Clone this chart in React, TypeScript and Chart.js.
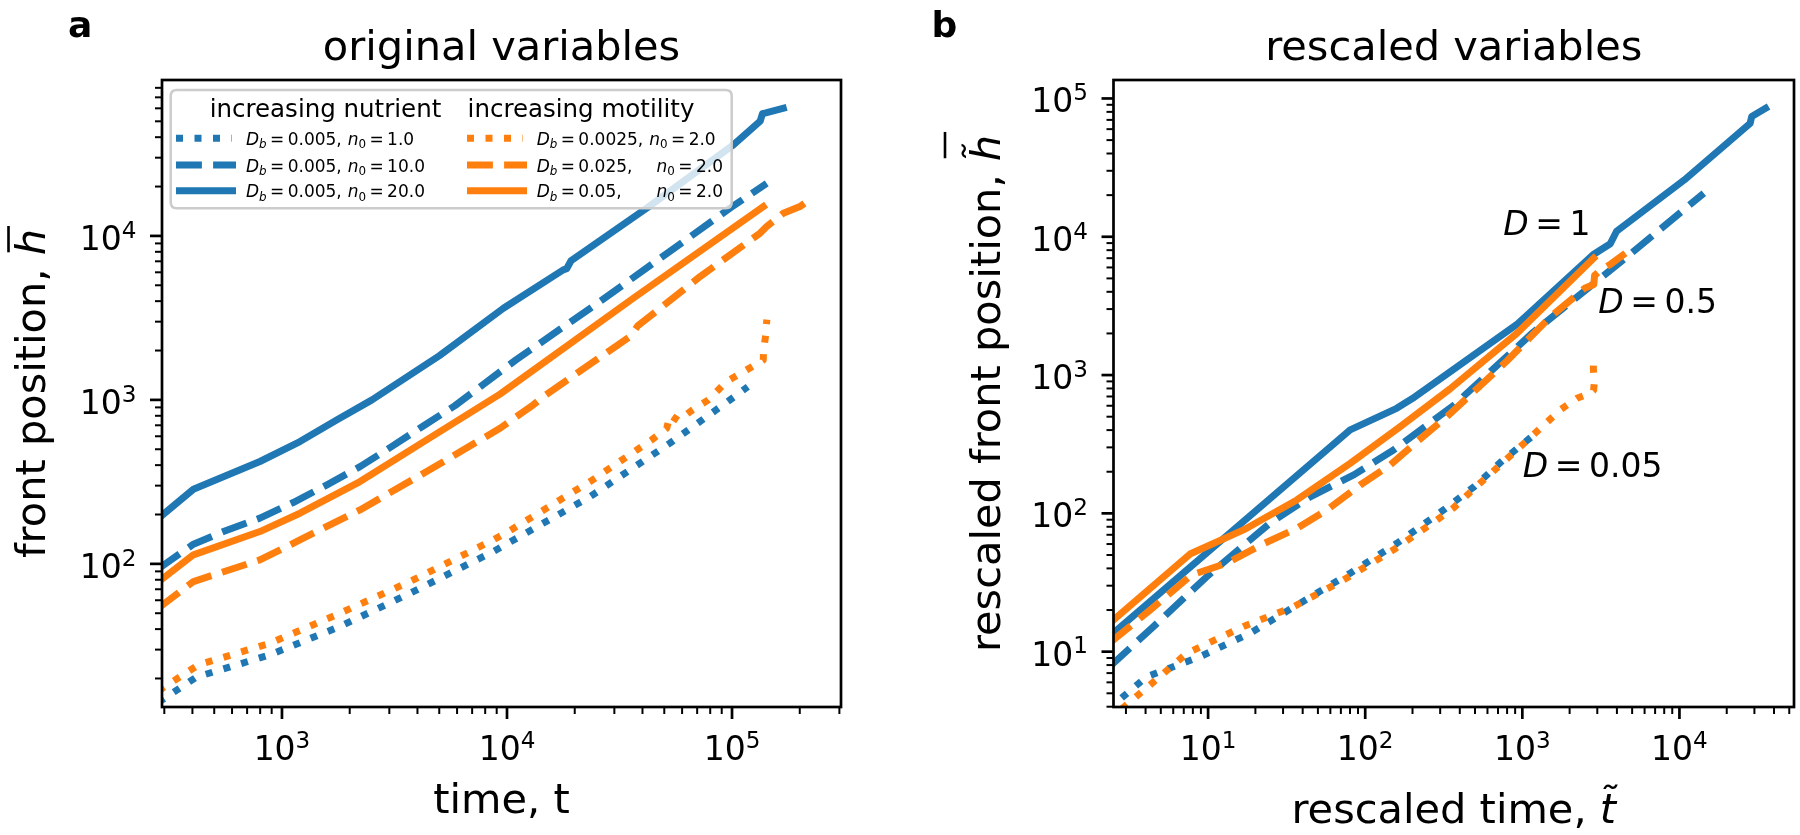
import React, { useEffect, useRef } from "react";
import { Chart, registerables } from "chart.js";

Chart.register(...registerables);

const BLUE = "#1f77b4";
const ORANGE = "#ff7f0e";
const FF = "'DejaVu Sans', 'Liberation Sans', sans-serif";
const LW = 7;
const DASHED = [25.9, 11.2];
const DOTTED = [7, 11.5];

// ---------------- panel a : original variables ----------------
const aXRange = [293, 305000];
const aYRange = [13.4, 89300];
const aXExp = [3, 4, 5];
const aYExp = [2, 3, 4];

// increasing nutrient (Db = 0.005)
const aNut1T = [282, 417, 885, 1811, 3707, 8690, 23390, 52970, 97950, 117500];
const aNut1H = [14.3, 20.4, 27.9, 41.5, 66.2, 118.9, 257, 544.5, 1000, 1202];
const aNut10T = [282, 404, 549.5, 798, 1122, 1585, 2223, 3069, 4246, 5875, 10960, 25880, 97950, 142600];
const aNut10H = [93.3, 131.8, 157.4, 190.1, 236.6, 303.4, 391.7, 518.8, 693.4, 922.6, 1754, 3981, 14760, 20940];
const aNut20T = [282, 404, 798, 1202, 1750, 2512, 5012, 9638, 17780, 18410, 19280, 41780, 101400, 133400, 136500, 141300, 169000];
const aNut20H = [189, 285, 421, 557, 755, 1000, 1862, 3622, 6209, 6310, 7079, 14760, 35890, 50120, 55590, 56230, 60120];

// increasing motility (n0 = 2.0)
const aMot0025T = [282, 425, 885, 1811, 3707, 8690, 10140, 23390, 43950, 51290, 52970, 57680, 66830, 78520, 94620, 116100, 137700, 138000, 141300, 141900, 142900];
const aMot0025H = [16.8, 24.2, 32.8, 50, 78, 140, 157.4, 317.7, 570.2, 671.4, 811, 748, 869, 1000, 1294, 1524, 1754, 1995, 2512, 2818, 3090];
const aMot025T = [282, 404, 798, 1202, 2223, 4395, 9311, 13090, 14490, 35480, 38020, 72110, 133000, 142600, 169000, 200400, 225400];
const aMot025H = [53.7, 78, 105.7, 140, 213.3, 365.6, 671.4, 933.3, 1047, 2455, 2818, 5649, 10370, 11400, 13740, 15100, 16980];
const aMot05T = [282, 404, 798, 1202, 2223, 4395, 9311, 36390, 137700];
const aMot05H = [77.6, 113.5, 157.4, 203.7, 317.7, 570.2, 1084, 4169, 15100];

// ---------------- panel b : rescaled variables ----------------
const bXRange = [2.5, 53600];
const bYRange = [3.98, 136000];
const bXExp = [1, 2, 3, 4];
const bYExp = [1, 2, 3, 4, 5];

const bNut20T = [2.4, 80.2, 158.5, 199.5, 363.1, 933.3, 2818, 3631, 3981, 10720, 28180, 28840, 35320];
const bNut20H = [13.1, 401, 575, 676, 1096, 2344, 7413, 8913, 10960, 25700, 66070, 74130, 84920];
const bMot05T = [2.4, 7.67, 16.8, 36.7, 80.2, 167.1, 346.7, 924.7, 2844];
const bMot05H = [16.3, 50.8, 75.9, 125, 230, 423.6, 794.3, 2004, 7000];
const bNut10T = [2.4, 4.47, 9.77, 24.8, 44.7, 85.1, 151.4, 364.8, 1175, 4645, 14290];
const bNut10H = [7.91, 15.1, 34.7, 85.1, 131.8, 190.5, 287.1, 602.6, 2042, 7178, 20650];
const bMot025T = [2.4, 4.28, 7.87, 13.15, 22.5, 36.7, 57.0, 92.9, 144.2, 213.3, 331.1, 794.3, 1507, 2512, 2851, 2884, 3162, 3631, 4529];
const bMot025H = [11.75, 20.0, 35.9, 43.6, 60.3, 78.0, 105.9, 160.3, 223.9, 329.6, 500, 1259, 2630, 4266, 4519, 5248, 5754, 6310, 7603];
const bNut1T = [2.29, 4.07, 8.89, 18.5, 38.5, 80.2, 159.2, 315.5, 494.3, 755.1, 1148];
const bNut1H = [3.8, 6.59, 9.2, 13.6, 22.4, 36.9, 60.8, 105.9, 156, 243.2, 358.9];
const bMot0025T = [2.82, 4.94, 7.31, 16.8, 34.9, 72.8, 151.4, 286.4, 364.8, 494.3, 1057, 1746, 2228, 2710, 2844, 2871, 2831, 2858];
const bMot0025H = [3.86, 6.61, 9.73, 15.2, 21.1, 33, 54.5, 89.7, 109.6, 151.4, 331.1, 559.8, 679.2, 738, 776.2, 891.3, 1122, 1396];

// legend texts
const legendTitles = ["increasing nutrient", "increasing motility"];
const legendNutDb = ["0.005", "0.005", "0.005"];
const legendNutN0 = ["1.0", "10.0", "20.0"];
const legendMotDb = ["0.0025", "0.025", "0.05"];
const legendMotN0 = ["2.0", "2.0", "2.0"];
const legendStyles = ["dotted", "dashed", "solid"];
const annotD = ["1", "0.5", "0.05"];

type Part = { t: string; it?: boolean; sub?: boolean; sup?: boolean };

function font(size: number, it?: boolean, bold?: boolean) {
  return `${it ? "italic " : ""}${bold ? "bold " : ""}${size}px ${FF}`;
}

function measureParts(ctx: CanvasRenderingContext2D, parts: Part[], size: number) {
  let total = 0;
  for (const p of parts) {
    ctx.font = font(p.sub || p.sup ? size * 0.7 : size, p.it);
    total += ctx.measureText(p.t).width;
  }
  return total;
}

function drawParts(ctx: CanvasRenderingContext2D, parts: Part[], x: number, y: number, size: number, align = "left") {
  const total = measureParts(ctx, parts, size);
  let cx = align === "center" ? x - total / 2 : align === "right" ? x - total : x;
  ctx.textAlign = "left";
  ctx.textBaseline = "alphabetic";
  const xs: number[] = [];
  for (const p of parts) {
    const s = p.sub || p.sup ? size * 0.7 : size;
    ctx.font = font(s, p.it);
    const dy = p.sub ? size * 0.2 : p.sup ? -size * 0.37 : 0;
    xs.push(cx);
    ctx.fillText(p.t, cx, y + dy);
    cx += ctx.measureText(p.t).width;
  }
  return { total, xs, end: cx };
}

function dashFor(style: string) {
  return style === "dashed" ? DASHED : style === "dotted" ? DOTTED : [];
}

function ds(label: string, t: number[], h: number[], color: string, style: string) {
  return {
    label,
    data: t.map((v, i) => ({ x: v, y: h[i] })),
    borderColor: color,
    backgroundColor: color,
    borderWidth: LW,
    borderDash: dashFor(style),
    borderCapStyle: style === "solid" ? "square" : "butt",
    borderJoinStyle: "round",
    pointRadius: 0,
    pointHoverRadius: 0,
    fill: false,
    tension: 0,
    clip: 0,
  };
}

function roundRectPath(ctx: CanvasRenderingContext2D, x: number, y: number, w: number, h: number, r: number) {
  ctx.beginPath();
  ctx.moveTo(x + r, y);
  ctx.lineTo(x + w - r, y);
  ctx.quadraticCurveTo(x + w, y, x + w, y + r);
  ctx.lineTo(x + w, y + h - r);
  ctx.quadraticCurveTo(x + w, y + h, x + w - r, y + h);
  ctx.lineTo(x + r, y + h);
  ctx.quadraticCurveTo(x, y + h, x, y + h - r);
  ctx.lineTo(x, y + r);
  ctx.quadraticCurveTo(x, y, x + r, y);
  ctx.closePath();
}

function drawLegend(ctx: CanvasRenderingContext2D) {
  const x0 = 170.7, y0 = 90, x1 = 731.7, y1 = 208.3;
  roundRectPath(ctx, x0, y0, x1 - x0, y1 - y0, 6);
  ctx.fillStyle = "rgba(255,255,255,0.8)";
  ctx.fill();
  ctx.strokeStyle = "#cccccc";
  ctx.lineWidth = 2.5;
  ctx.stroke();
  ctx.fillStyle = "#000";
  drawParts(ctx, [{ t: legendTitles[0] }], 325.5, 116.7, 24.5, "center");
  drawParts(ctx, [{ t: legendTitles[1] }], 581, 116.7, 24.5, "center");
  const rows = [138.3, 165, 190.7];
  const FS = 17;
  const cols = [
    { color: BLUE, hx: 176, tx: 246, db: legendNutDb, n0: legendNutN0, align: false },
    { color: ORANGE, hx: 467, tx: 536.7, db: legendMotDb, n0: legendMotN0, align: true },
  ];
  for (const c of cols) {
    let firstNx = 0;
    rows.forEach((ry, i) => {
      const style = legendStyles[i];
      ctx.save();
      ctx.strokeStyle = c.color;
      ctx.lineWidth = LW;
      ctx.lineCap = "butt";
      ctx.setLineDash(dashFor(style));
      ctx.beginPath();
      ctx.moveTo(c.hx, ry);
      ctx.lineTo(c.hx + (style === "dotted" ? 56 : 60), ry);
      ctx.stroke();
      ctx.restore();
      ctx.fillStyle = "#000";
      const by = ry + 6.5;
      const r = drawParts(
        ctx,
        [{ t: "D", it: true }, { t: "b", it: true, sub: true }, { t: "\u2009=\u2009" + c.db[i] + "," }],
        c.tx,
        by,
        FS
      );
      let nx = r.end + 6;
      if (c.align) {
        if (i === 0) firstNx = nx;
        else nx = firstNx + 7.3;
      }
      drawParts(ctx, [{ t: "n", it: true }, { t: "0", sub: true }, { t: "\u2009=\u2009" + c.n0[i] }], nx, by, FS);
    });
  }
}

function drawAnnotations(ctx: CanvasRenderingContext2D) {
  ctx.fillStyle = "#000";
  const pos = [[603.3, 235], [698.3, 313.3], [622.8, 476.7]];
  annotD.forEach((d, i) => {
    drawParts(ctx, [{ t: "D", it: true }, { t: "\u2009=\u2009" + d }], pos[i][0], pos[i][1], 33);
  });
}

interface Deco {
  letter: string;
  letterX: number;
  title: string;
  xExp: number[];
  yExp: number[];
  xLabel: Part[];
  xLabelY: number;
  yLabel: Part[];
  yLabelX: number;
  barH: number;
  extra: (ctx: CanvasRenderingContext2D) => void;
}

function decoPlugin(d: Deco) {
  return {
    id: "deco",
    afterDraw(chart: any) {
      const ctx: CanvasRenderingContext2D = chart.ctx;
      const { left, right, top, bottom } = chart.chartArea;
      const xs = chart.scales.x;
      const ys = chart.scales.y;
      ctx.save();
      ctx.strokeStyle = "#000";
      ctx.fillStyle = "#000";
      ctx.lineCap = "butt";
      // ticks
      for (let e = Math.floor(Math.log10(xs.min)); e <= Math.ceil(Math.log10(xs.max)); e++) {
        for (let m = 1; m <= 9; m++) {
          const v = m * Math.pow(10, e);
          if (v < xs.min || v > xs.max) continue;
          const px = xs.getPixelForValue(v);
          ctx.lineWidth = m === 1 ? 2.7 : 2;
          ctx.beginPath();
          ctx.moveTo(px, bottom);
          ctx.lineTo(px, bottom + (m === 1 ? 12 : 7));
          ctx.stroke();
        }
      }
      for (let e = Math.floor(Math.log10(ys.min)); e <= Math.ceil(Math.log10(ys.max)); e++) {
        for (let m = 1; m <= 9; m++) {
          const v = m * Math.pow(10, e);
          if (v < ys.min || v > ys.max) continue;
          const py = ys.getPixelForValue(v);
          ctx.lineWidth = m === 1 ? 2.7 : 2;
          ctx.beginPath();
          ctx.moveTo(left, py);
          ctx.lineTo(left - (m === 1 ? 12 : 7), py);
          ctx.stroke();
        }
      }
      // frame
      ctx.lineWidth = 2.7;
      ctx.strokeRect(left, top, right - left, bottom - top);
      // tick labels
      for (const e of d.xExp) {
        const px = xs.getPixelForValue(Math.pow(10, e));
        drawParts(ctx, [{ t: "10" }, { t: String(e), sup: true }], px, 760, 33, "center");
      }
      for (const e of d.yExp) {
        const py = ys.getPixelForValue(Math.pow(10, e));
        drawParts(ctx, [{ t: "10" }, { t: String(e), sup: true }], left - 25.5, py + 14, 33, "right");
      }
      // title, letter
      drawParts(ctx, [{ t: d.title }], (left + right) / 2, 60, 41.5, "center");
      ctx.font = font(36, false, true);
      ctx.fillText(d.letter, d.letterX, 37);
      // x label
      drawParts(ctx, d.xLabel, (left + right) / 2, d.xLabelY, 41.5, "center");
      // y label
      ctx.save();
      ctx.translate(d.yLabelX, (top + bottom) / 2);
      ctx.rotate(-Math.PI / 2);
      const r = drawParts(ctx, d.yLabel, 0, 0, 41.5, "center");
      const hx = r.xs[r.xs.length - 1];
      const hw = r.end - hx;
      ctx.fillRect(hx + 3, -d.barH - 1.3, hw, 2.6);
      ctx.restore();
      d.extra(ctx);
      ctx.restore();
    },
  };
}

function makeConfig(datasets: any[], xr: number[], yr: number[], padding: any, deco: Deco) {
  return {
    type: "line",
    data: { datasets },
    options: {
      animation: false,
      responsive: false,
      devicePixelRatio: 1,
      events: [],
      layout: { padding },
      scales: {
        x: { type: "logarithmic", min: xr[0], max: xr[1], display: false },
        y: { type: "logarithmic", min: yr[0], max: yr[1], display: false },
      },
      plugins: { legend: { display: false }, tooltip: { enabled: false }, title: { display: false } },
      elements: { point: { radius: 0 }, line: { tension: 0 } },
    },
    plugins: [decoPlugin(deco)],
  } as any;
}

const configA = () =>
  makeConfig(
    [
      ds("Db=0.05, n0=2.0", aMot05T, aMot05H, ORANGE, "solid"),
      ds("Db=0.025, n0=2.0", aMot025T, aMot025H, ORANGE, "dashed"),
      ds("Db=0.0025, n0=2.0", aMot0025T, aMot0025H, ORANGE, "dotted"),
      ds("Db=0.005, n0=20.0", aNut20T, aNut20H, BLUE, "solid"),
      ds("Db=0.005, n0=10.0", aNut10T, aNut10H, BLUE, "dashed"),
      ds("Db=0.005, n0=1.0", aNut1T, aNut1H, BLUE, "dotted"),
    ],
    aXRange,
    aYRange,
    { left: 162, top: 80, right: 59, bottom: 128 },
    {
      letter: "a",
      letterX: 68,
      title: "original variables",
      xExp: aXExp,
      yExp: aYExp,
      xLabel: [{ t: "time, t" }],
      xLabelY: 813,
      yLabel: [{ t: "front position, " }, { t: "h", it: true }],
      yLabelX: 45,
      barH: 36.5,
      extra: drawLegend,
    }
  );

const configB = () =>
  makeConfig(
    [
      ds("D=1 motility", bMot05T, bMot05H, ORANGE, "solid"),
      ds("D=0.5 motility", bMot025T, bMot025H, ORANGE, "dashed"),
      ds("D=0.05 motility", bMot0025T, bMot0025H, ORANGE, "dotted"),
      ds("D=1 nutrient", bNut20T, bNut20H, BLUE, "solid"),
      ds("D=0.5 nutrient", bNut10T, bNut10H, BLUE, "dashed"),
      ds("D=0.05 nutrient", bNut1T, bNut1H, BLUE, "dotted"),
    ],
    bXRange,
    bYRange,
    { left: 213.5, top: 80, right: 6, bottom: 128 },
    {
      letter: "b",
      letterX: 31.6,
      title: "rescaled variables",
      xExp: bXExp,
      yExp: bYExp,
      xLabel: [{ t: "rescaled time, " }, { t: "t\u0303", it: true }],
      xLabelY: 823,
      yLabel: [{ t: "rescaled front position, " }, { t: "h\u0303", it: true }],
      yLabelX: 100,
      barH: 55,
      extra: drawAnnotations,
    }
  );

function Panel({ make, left }: { make: () => any; left: number }) {
  const ref = useRef<HTMLCanvasElement>(null);
  useEffect(() => {
    const chart = new Chart(ref.current as HTMLCanvasElement, make());
    return () => chart.destroy();
  }, []);
  return (
    <canvas
      ref={ref}
      width={900}
      height={835}
      style={{ position: "absolute", left, top: 0, width: 900, height: 835 }}
    />
  );
}

export default function App() {
  return (
    <div style={{ position: "absolute", left: 0, top: 0, width: 1800, height: 835, background: "#fff", overflow: "hidden" }}>
      <Panel make={configA} left={0} />
      <Panel make={configB} left={900} />
    </div>
  );
}
